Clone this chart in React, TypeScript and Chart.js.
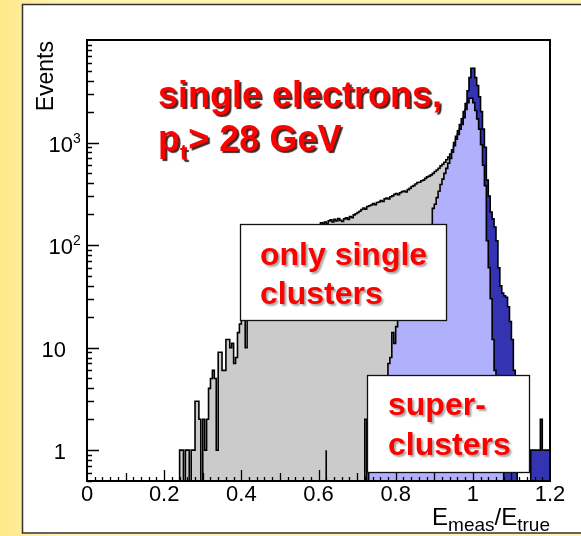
import { useEffect, useRef } from 'react';
import { Chart, registerables } from 'chart.js';

Chart.register(...registerables);

// ---- data (bin width 0.005 in E_meas/E_true) ----
const BIN_WIDTH = 0.005;

// gray: only single clusters, bins from 0.24
const singleStart = 0.24;
const singleCounts = [
  0, 1, 1, 0, 1, 1, 0, 1, 1, 3, 3, 2, 0, 2, 1, 2, 4, 5, 6, 5,
  1, 9, 9, 6, 6, 12, 12, 10, 11, 7, 8, 14, 17, 25, 30, 10, 28, 33, 30, 36,
  40, 38, 45, 48, 44, 52, 55, 60, 58, 65, 70, 68, 75, 80, 78, 85, 90, 88, 95, 100,
  98, 105, 110, 108, 115, 120, 118, 125, 130, 128, 135, 140, 145, 152, 165, 162, 168, 160, 172, 176,
  168, 178, 172, 181, 174, 170, 180, 184, 178, 190, 185, 197, 202, 208, 214, 222, 230, 224, 238, 242,
  246, 254, 247, 260, 263, 272, 266, 282, 287, 281, 296, 302, 312, 318, 310, 324, 332, 337, 330, 347,
  357, 372, 380, 394, 407, 410, 424, 430, 447, 462, 470, 484, 500, 522, 540, 562, 592, 615, 642, 680,
  720, 770, 560, 650, 750, 840, 950, 1050, 1220, 1470, 1700, 1900, 1900, 1700, 1430, 1190, 950, 660, 420, 270,
  75, 40, 20, 8, 4, 2, 1,
];

// light blue: superclusters, bins from 0.62
const superStart = 0.62;
const superCounts = [
  1, 0, 0, 0, 0, 0, 0, 0, 0, 0, 0, 0, 0, 0, 0, 0, 0, 0, 0, 0,
  0, 2, 0, 1, 2, 1, 2, 2, 3, 2, 3, 4, 4, 7, 8, 14, 11, 16, 20, 24,
  28, 34, 40, 48, 55, 65, 75, 85, 95, 105, 115, 125, 130, 138, 145, 150, 228, 250, 290, 335,
  390, 440, 500, 560, 630, 700, 805, 930, 1080, 1200, 1350, 1500, 1750, 2100, 2450, 2700, 2700, 2450, 2050, 1700,
  1350, 950, 600, 380, 110, 60, 30, 12, 6, 4, 2, 1,
];

// dark blue: all, bins from 0.94
const allStart = 0.94;
const allCounts = [
  630, 700, 850, 1000, 1150, 1300, 1500, 1700, 2000, 2400, 3200, 4300, 5300, 5300, 4300, 3600, 2800, 2000, 1350, 900,
  430, 300, 210, 180, 150, 110, 60, 40, 34, 32, 31, 25, 18, 12, 6, 2, 0, 0, 0, 0,
  0, 0, 0, 1, 1, 1, 1, 1, 2, 1, 1, 1,
];

const xTickValues = [0, 0.2, 0.4, 0.6, 0.8, 1.0, 1.2];
const xTickLabels = ['0', '0.2', '0.4', '0.6', '0.8', '1', '1.2'];
const yTickValues = [1, 10, 100, 1000];
const yTickBases = ['1', '10', '10', '10'];
const yTickExps = ['', '', '2', '3'];

const GRAY = '#cbcbcb';
const LIGHT = '#b0b0fc';
const DARK = '#3434b2';
const FONT = '"Liberation Sans", Arial, Helvetica, sans-serif';

function histPoints(start: number, counts: number[]) {
  const FLOOR = 1e-3;
  const edge = (i: number) => Math.round((start + i * BIN_WIDTH) * 10000) / 10000;
  const pts: { x: number; y: number }[] = [{ x: edge(0), y: FLOOR }];
  counts.forEach((c, i) => pts.push({ x: edge(i), y: c > 0 ? c : FLOOR }));
  const last = counts[counts.length - 1];
  pts.push({ x: edge(counts.length), y: last > 0 ? last : FLOOR });
  pts.push({ x: edge(counts.length), y: FLOOR });
  return pts;
}

const deco = {
  id: 'deco',
  beforeDraw(chart: any) {
    const ctx = chart.ctx as CanvasRenderingContext2D;
    const W = chart.width, H = chart.height;
    ctx.save();
    const g = ctx.createLinearGradient(0, 0, 60, 0);
    g.addColorStop(0, '#ffe88a');
    g.addColorStop(1, '#fff3b4');
    ctx.fillStyle = g;
    ctx.fillRect(0, 0, W, H);
    ctx.fillStyle = '#ffffff';
    ctx.fillRect(22, 4, W, 529);
    ctx.strokeStyle = '#333';
    ctx.lineWidth = 1.5;
    ctx.beginPath();
    ctx.moveTo(W + 5, 4.5);
    ctx.lineTo(22.5, 4.5);
    ctx.lineTo(22.5, 533);
    ctx.lineTo(W + 5, 533);
    ctx.stroke();
    ctx.restore();
  },
  afterDatasetsDraw(chart: any) {
    const ctx = chart.ctx as CanvasRenderingContext2D;
    const a = chart.chartArea;
    const xs = chart.scales.x;
    const ys = chart.scales.y;
    ctx.save();
    ctx.strokeStyle = '#000';
    ctx.lineWidth = 2;
    ctx.strokeRect(a.left, a.top, a.right - a.left, a.bottom - a.top);

    // x ticks (inward)
    ctx.lineWidth = 1.3;
    ctx.beginPath();
    for (let k = 1; k < 60; k++) {
      const v = k * 0.02;
      const px = Math.round(xs.getPixelForValue(v)) + 0.5;
      const len = k % 10 === 0 ? 11 : k % 5 === 0 ? 8 : 4;
      ctx.moveTo(px, a.bottom);
      ctx.lineTo(px, a.bottom - len);
    }
    ctx.stroke();

    // y ticks (inward)
    ctx.beginPath();
    for (const d of [0.1, 1, 10, 100, 1000]) {
      for (let m = 1; m <= 9; m++) {
        const v = m * d;
        if (v < 0.5 || v >= 10000) continue;
        const py = Math.round(ys.getPixelForValue(v)) + 0.5;
        const len = m === 1 ? 12 : m <= 4 ? 7 : 5;
        ctx.moveTo(a.left, py);
        ctx.lineTo(a.left + len, py);
      }
    }
    ctx.stroke();

    // labels
    ctx.fillStyle = '#000';
    ctx.textBaseline = 'alphabetic';
    ctx.font = `22px ${FONT}`;
    ctx.textAlign = 'center';
    xTickValues.forEach((v, i) => {
      ctx.fillText(xTickLabels[i], xs.getPixelForValue(v), 501);
    });
    yTickValues.forEach((v, i) => {
      const py = ys.getPixelForValue(v);
      ctx.font = `22px ${FONT}`;
      if (yTickExps[i]) {
        ctx.textAlign = 'right';
        ctx.fillText(yTickBases[i], 73, py + 9);
        ctx.font = `14px ${FONT}`;
        ctx.textAlign = 'left';
        ctx.fillText(yTickExps[i], 73, py);
      } else {
        ctx.textAlign = 'right';
        ctx.fillText(yTickBases[i], 66, py + 9);
      }
    });

    // y title
    ctx.save();
    ctx.font = `23px ${FONT}`;
    ctx.translate(53, 41);
    ctx.rotate(-Math.PI / 2);
    ctx.textAlign = 'right';
    ctx.fillText('Events', 0, 0);
    ctx.restore();

    // x title E_meas/E_true
    const parts = [
      { t: 'E', f: 24, dy: 0 },
      { t: 'meas', f: 19, dy: 6 },
      { t: '/', f: 24, dy: 0 },
      { t: 'E', f: 24, dy: 0 },
      { t: 'true', f: 19, dy: 6 },
    ];
    let total = 0;
    for (const p of parts) {
      ctx.font = `${p.f}px ${FONT}`;
      total += ctx.measureText(p.t).width;
    }
    let x = 550 - total;
    ctx.textAlign = 'left';
    for (const p of parts) {
      ctx.font = `${p.f}px ${FONT}`;
      ctx.fillText(p.t, x, 525 + p.dy);
      x += ctx.measureText(p.t).width;
    }
    ctx.restore();
  },
  afterDraw(chart: any) {
    const ctx = chart.ctx as CanvasRenderingContext2D;
    ctx.save();
    // boxes
    ctx.fillStyle = '#fff';
    ctx.strokeStyle = '#111';
    ctx.lineWidth = 1.3;
    ctx.fillRect(240, 224, 207, 97);
    ctx.strokeRect(240.5, 224.5, 206, 96);
    ctx.fillRect(367, 375, 163, 98);
    ctx.strokeRect(367.5, 375.5, 162, 97);

    ctx.textAlign = 'left';
    ctx.textBaseline = 'alphabetic';
    ctx.fillStyle = '#ff0000';

    // box texts with soft shadow
    ctx.shadowColor = 'rgba(0,0,0,0.35)';
    ctx.shadowOffsetX = 2;
    ctx.shadowOffsetY = 2;
    ctx.shadowBlur = 2;
    ctx.font = `bold 32px ${FONT}`;
    ctx.fillText('only single', 260, 265);
    ctx.fillText('clusters', 260, 304);
    ctx.fillText('super-', 388, 415);
    ctx.fillText('clusters', 388, 455);

    // title with dark shadow
    ctx.shadowColor = 'rgba(30,0,0,0.85)';
    ctx.shadowOffsetX = 2;
    ctx.shadowOffsetY = 2;
    ctx.shadowBlur = 1;
    ctx.font = `bold 36px ${FONT}`;
    ctx.fillText('single electrons,', 158, 107);
    ctx.fillText('p', 158, 151);
    let x = 158 + ctx.measureText('p').width;
    ctx.font = `bold 22px ${FONT}`;
    ctx.fillText('t', x, 160);
    x += ctx.measureText('t').width + 1;
    ctx.font = `bold 36px ${FONT}`;
    ctx.fillText('> 28 GeV', x, 151);
    ctx.restore();
  },
};

export default function App() {
  const ref = useRef<HTMLCanvasElement | null>(null);
  useEffect(() => {
    if (!ref.current) return;
    const common = {
      stepped: 'after' as const,
      fill: 'start' as const,
      borderColor: '#000',
      borderWidth: 1.6,
      pointRadius: 0,
      pointHoverRadius: 0,
      tension: 0,
    };
    const chart = new Chart(ref.current, {
      type: 'line',
      data: {
        datasets: [
          { ...common, label: 'superclusters', data: histPoints(superStart, superCounts), backgroundColor: LIGHT, order: 0 },
          { ...common, label: 'only single clusters', data: histPoints(singleStart, singleCounts), backgroundColor: GRAY, order: 1 },
          { ...common, label: 'all', data: histPoints(allStart, allCounts), backgroundColor: DARK, order: 2 },
        ],
      },
      options: {
        responsive: false,
        animation: false,
        devicePixelRatio: 1,
        events: [],
        layout: { padding: { left: 87, right: 31, top: 40, bottom: 55 } },
        scales: {
          x: { type: 'linear', min: 0, max: 1.2, display: false },
          y: { type: 'logarithmic', min: 0.5, max: 10000, display: false },
        },
        plugins: { legend: { display: false }, tooltip: { enabled: false } },
      },
      plugins: [deco],
    });
    return () => chart.destroy();
  }, []);
  return (
    <div style={{ position: 'fixed', left: 0, top: 0, width: 581, height: 536 }}>
      <canvas ref={ref} width={581} height={536} style={{ display: 'block' }} />
    </div>
  );
}
